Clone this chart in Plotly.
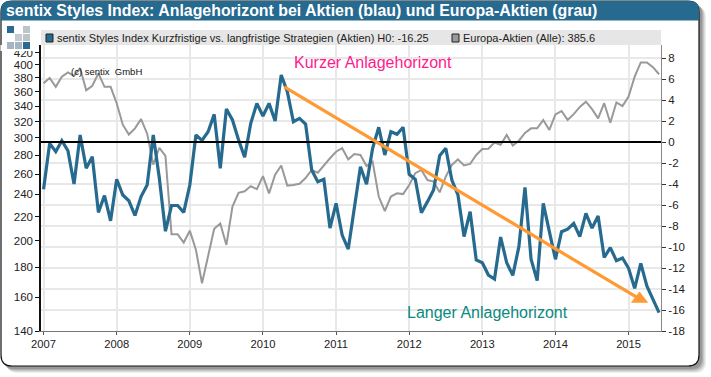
import plotly.graph_objects as go

months = list(range(102))
year_ticks = [0, 12, 24, 36, 48, 60, 72, 84, 96]
year_labels = ["2007", "2008", "2009", "2010", "2011", "2012", "2013", "2014", "2015"]

styles_index = [
    -4.5, -0.13, -0.92, 0.13, -0.83, -4.0, 0.67, -2.5, -1.4, -6.7, -5.1, -7.5,
    -3.55, -5.05, -5.6, -7.0, -5.2, -4.1, 0.67, -3.45, -8.5, -6.05, -6.05, -6.7,
    -4.1, 0.67, 0.15, 0.98, 2.63, -2.5, 3.14, 2.1, 0.2, -1.46, 1.78, 3.68,
    2.48, 3.68, 2.0, 6.38, 4.8, 1.93, 2.25, 1.71, -2.67, -3.78, -3.55, -8.2,
    -5.84, -8.86, -10.2, -6.0, -2.35, -4.03, -0.6, 1.4, -1.24, 0.98, 0.73, 1.4,
    -3.08, -3.55, -6.73, -5.68, -4.57, -1.3, -0.6, -3.62, -5.05, -9.0, -6.63, -11.24,
    -11.5, -12.67, -13.05, -9.05, -11.5, -12.7, -9.97, -4.32, -11.17, -13.2, -5.84, -8.54,
    -11.17, -8.54, -8.3, -7.75, -9.0, -6.8, -8.2, -7.05, -11.0, -10.06, -11.3, -11.05,
    -12.03, -13.94, -11.56, -13.7, -14.9, -16.25,
]
europa_aktien = [
    372, 380, 367, 382, 388.5, 383, 395, 362, 368.5, 387, 367, 367,
    344, 316, 304, 311.5, 323, 305, 270, 288.5, 279.5, 205, 205, 198.5,
    208, 193, 169, 187.8, 209.5, 214, 196.6, 228.8, 241.5, 243, 248, 245,
    258, 241, 259.5, 269, 248.5, 249, 250.3, 256, 264.3, 261.5, 269.6, 276.8,
    284, 288, 275.6, 281.5, 280.4, 268.5, 273, 238, 224.8, 238, 241, 240.3,
    249, 261, 264.3, 254, 252.4, 242, 257.5, 269.6, 275.6, 269, 270.7, 280.4,
    287, 287.4, 294.6, 292, 303.5, 291, 296.7, 306, 311.5, 311.5, 322, 309.5,
    329, 333.5, 322, 329.5, 339, 346, 336, 324, 344, 318.5, 345, 340,
    353, 382, 404, 404, 396.5, 385.6,
]
trend_x = [39.5, 97.8]
trend_y = [5.24, -14.95]
left_ticks = [140, 160, 180, 200, 220, 240, 260, 280, 300, 320, 340, 360, 380, 400, 420]
right_ticks = [8, 6, 4, 2, 0, -2, -4, -6, -8, -10, -12, -14, -16, -18]

BLUE = "#266a8f"
GREY = "#999999"
ORANGE = "#ff9a33"

L, R, T, B = 41, 661, 45, 331


def px(x):
    return (x - L) / (R - L)


def py(y):
    return (B - y) / (B - T)


def rect(x0, y0, x1, y1, fill, line=None, layer="below", lw=1, opacity=1):
    return dict(type="rect", xref="paper", yref="paper", x0=px(x0), x1=px(x1), y0=py(y0), y1=py(y1),
                fillcolor=fill, line=dict(color=line or fill, width=lw if line else 0), layer=layer, opacity=opacity)


def rounded(x0, y0, x1, y1, r, fill, line=None, lw=1, opacity=1, top_only=False):
    a = lambda x, y: f"{px(x):.5f},{py(y):.5f}"
    if top_only:
        path = (f"M{a(x0, y1)} L{a(x0, y0 + r)} Q{a(x0, y0)} {a(x0 + r, y0)} L{a(x1 - r, y0)} "
                f"Q{a(x1, y0)} {a(x1, y0 + r)} L{a(x1, y1)} Z")
    else:
        path = (f"M{a(x0, y1 - r)} L{a(x0, y0 + r)} Q{a(x0, y0)} {a(x0 + r, y0)} L{a(x1 - r, y0)} "
                f"Q{a(x1, y0)} {a(x1, y0 + r)} L{a(x1, y1 - r)} Q{a(x1, y1)} {a(x1 - r, y1)} "
                f"L{a(x0 + r, y1)} Q{a(x0, y1)} {a(x0, y1 - r)} Z")
    return dict(type="path", xref="paper", yref="paper", path=path, fillcolor=fill,
                line=dict(color=line or fill, width=lw if line else 0), layer="below", opacity=opacity)


shapes = []
for off, op in [(7, 0.10), (6, 0.12), (5, 0.16), (4, 0.2), (3, 0.25)]:
    shapes.append(rounded(3 + off - 3, 3 + off - 3, 699 + off, 366 + off, 11, "#555555", opacity=op))
shapes.append(rounded(1, 1, 699, 366, 11, "#ffffff", line="#111111", lw=1.2))
shapes.append(rounded(1, 1, 699, 20.5, 9, BLUE, top_only=True))

# clip of the topmost left tick label, legend strip, logo
shapes.append(rect(0.5, 45, 39, 51, "#ffffff", layer="above"))
shapes.append(rect(L, 30, R, 45, "#e6e6e6", layer="above"))
shapes.append(rect(46, 34, 53, 42, BLUE, line="#222222", layer="above"))
shapes.append(rect(452, 34, 459, 42, "#999999", line="#222222", layer="above"))
logo = [(7, 26, "#2a6a90"), (23, 26, "#b9c4cb"), (15, 34, "#c4ccd2"), (23, 34, "#b9c4cb"),
        (7, 42, "#a5b6c2"), (15, 42, "#a5b6c2"), (23, 42, "#2a6a90")]
for x, y, c in logo:
    shapes.append(rect(x, y, x + 7, y + 7, c, layer="above"))

fig = go.Figure()
fig.add_trace(go.Scatter(x=months, y=europa_aktien, mode="lines", yaxis="y",
                         line=dict(color=GREY, width=2), hoverinfo="skip"))
fig.add_trace(go.Scatter(x=months, y=styles_index, mode="lines", yaxis="y2",
                         line=dict(color=BLUE, width=3.2), hoverinfo="skip"))
fig.add_trace(go.Scatter(x=[months[0] - 0.42, months[-1] + 0.32], y=[0, 0], mode="lines", yaxis="y2",
                         line=dict(color="#000000", width=2), hoverinfo="skip"))
fig.add_trace(go.Scatter(x=trend_x, y=trend_y, mode="lines", yaxis="y2",
                         line=dict(color=ORANGE, width=3.2), hoverinfo="skip"))
fig.add_trace(go.Scatter(x=trend_x[1:], y=trend_y[1:], mode="markers", yaxis="y2",
                         marker=dict(symbol="triangle-up", size=15, color=ORANGE), hoverinfo="skip"))


def note(x, y, text, size, color, anchor="left", family="Liberation Sans"):
    return dict(xref="paper", yref="paper", x=px(x), y=py(y), text=text, showarrow=False,
                xanchor=anchor, yanchor="middle", font=dict(size=size, color=color, family=family))


annotations = [
    note(3.5, 11, "<b>sentix Styles Index: Anlagehorizont bei Aktien (blau) und Europa-Aktien (grau)</b>", 15.9, "#ffffff"),
    note(54.5, 38, "sentix Styles Index Kurzfristige vs. langfristige Strategien (Aktien) H0: -16.25", 11, "#222222"),
    note(461, 38, "Europa-Aktien (Alle): 385.6", 11, "#222222"),
    note(69, 71, "(c) sentix  GmbH", 9.5, "#111111"),
    note(292, 62, "Kurzer Anlagehorizont", 16, "#ff1a8c"),
    note(405, 312, "Langer Anlagehorizont", 16, "#0a8a80"),
]

fig.update_layout(
    width=711, height=377, autosize=False, showlegend=False,
    margin=dict(l=L, r=711 - R, t=T, b=377 - B, pad=0),
    paper_bgcolor="#ffffff", plot_bgcolor="rgba(0,0,0,0)",
    font=dict(family="Liberation Sans", size=11.5, color="#222222"),
    shapes=shapes, annotations=annotations,
    xaxis=dict(range=[-0.42, 101.32], tickvals=year_ticks, ticktext=year_labels, tickangle=0,
               showgrid=True, gridcolor="#e8e8e8", gridwidth=2, zeroline=False,
               showline=True, linecolor="#777777", linewidth=1,
               ticks="outside", ticklen=3, tickcolor="#555555", tickfont=dict(size=11.2)),
    yaxis=dict(type="log", side="left", range=[2.14613, 2.63629], tickvals=left_ticks,
               ticktext=[str(v) for v in left_ticks], showgrid=False, zeroline=False,
               showline=True, linecolor="#111111", linewidth=1.5,
               ticks="outside", ticklen=4, tickcolor="#111111"),
    yaxis2=dict(side="right", overlaying="y", range=[-18, 9.238], tickvals=right_ticks,
                ticktext=[str(v) for v in right_ticks], showgrid=True, gridcolor="#e8e8e8", gridwidth=2,
                zeroline=False, showline=True, linecolor="#888888", linewidth=1,
                ticks="outside", ticklen=4, tickcolor="#333333"),
)

fig.write_html("out.html", config={"displayModeBar": False},
               post_script="document.body.style.margin='0';document.body.style.overflow='hidden';")
